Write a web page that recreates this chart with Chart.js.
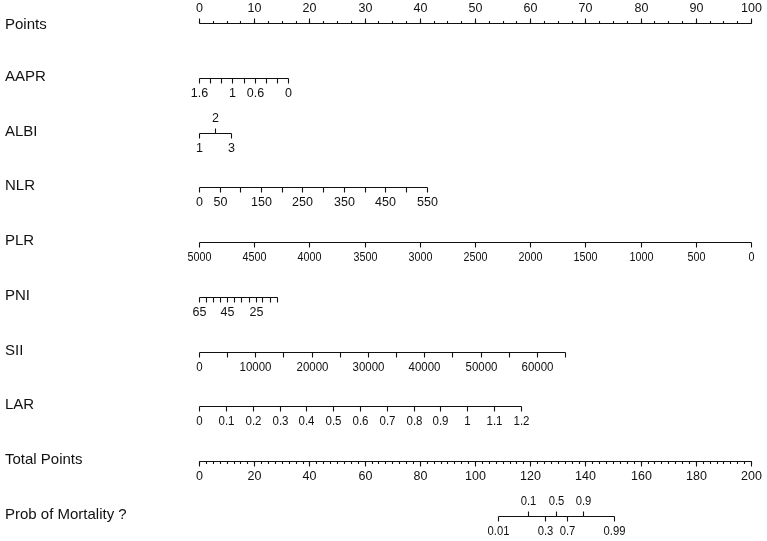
<!DOCTYPE html>
<html>
<head>
<meta charset="utf-8">
<script src="https://cdn.jsdelivr.net/npm/chart.js@4.4.1/dist/chart.umd.min.js"></script>
<style>
  html, body { margin: 0; padding: 0; background: #fff; }
  #wrap { position: relative; width: 767px; height: 541px; }
</style>
</head>
<body>
<div id="wrap"><canvas id="nomo"></canvas></div>
<script>
// row titles, top to bottom
const rowNames = ['Points', 'AAPR', 'ALBI', 'NLR', 'PLR', 'PNI', 'SII', 'LAR', 'Total Points', 'Prob of Mortality ?'];

// Points scale 0-100
const pointsTicks = [0, 10, 20, 30, 40, 50, 60, 70, 80, 90, 100];
const pointsLabels = ['0', '10', '20', '30', '40', '50', '60', '70', '80', '90', '100'];

// each variable: tick values, their position in points, printed labels
const aaprPoints = [0, 2.0, 4.0, 6.0, 8.1, 10.1, 12.1, 14.1, 16.1];
const aaprLabels = ['1.6', '', '', '1', '', '0.6', '', '', '0'];

const albiPoints = [0, 2.9, 5.8];
const albiLabels = ['1', '2', '3'];
const albiSides = ['down', 'up', 'down'];

const nlrPoints = [0, 3.75, 7.5, 11.2, 15.0, 18.7, 22.5, 26.2, 30.0, 33.7, 37.5, 41.3];
const nlrLabels = ['0', '50', '', '150', '', '250', '', '350', '', '450', '', '550'];

const plrPoints = [0, 10, 20, 30, 40, 50, 60, 70, 80, 90, 100];
const plrLabels = ['5000', '4500', '4000', '3500', '3000', '2500', '2000', '1500', '1000', '500', '0'];

const pniPoints = [0, 1.28, 2.56, 3.85, 5.13, 6.41, 7.69, 8.97, 10.3, 11.5, 12.8, 14.1];
const pniLabels = ['65', '', '', '', '45', '', '', '', '25', '', '', ''];

const siiPoints = [0, 5.1, 10.2, 15.3, 20.4, 25.5, 30.6, 35.7, 40.8, 45.9, 51.0, 56.1, 61.2, 66.3];
const siiLabels = ['0', '', '10000', '', '20000', '', '30000', '', '40000', '', '50000', '', '60000', ''];

const larPoints = [0, 4.86, 9.72, 14.6, 19.4, 24.3, 29.2, 34.0, 38.9, 43.7, 48.6, 53.5, 58.3];
const larLabels = ['0', '0.1', '0.2', '0.3', '0.4', '0.5', '0.6', '0.7', '0.8', '0.9', '1', '1.1', '1.2'];

// Total points scale 0-200
const totalTicks = [0, 20, 40, 60, 80, 100, 120, 140, 160, 180, 200];
const totalLabels = ['0', '20', '40', '60', '80', '100', '120', '140', '160', '180', '200'];

// probability, placed on total points
const probTotals = [108.3, 119.3, 125.4, 129.3, 133.2, 139.3, 150.4];
const probLabels = ['0.01', '0.1', '0.3', '0.5', '0.7', '0.9', '0.99'];
const probSides = ['down', 'up', 'down', 'up', 'down', 'up', 'down'];

const down = n => Array(n).fill('down');

const rows = [
  { axis: 'x', at: pointsTicks, labels: pointsLabels, sides: Array(pointsTicks.length).fill('up'), minor: 2.5 },
  { axis: 'x', at: aaprPoints, labels: aaprLabels, sides: down(aaprPoints.length) },
  { axis: 'x', at: albiPoints, labels: albiLabels, sides: albiSides },
  { axis: 'x', at: nlrPoints, labels: nlrLabels, sides: down(nlrPoints.length) },
  { axis: 'x', at: plrPoints, labels: plrLabels, sides: down(plrPoints.length), squeeze: 0.86 },
  { axis: 'x', at: pniPoints, labels: pniLabels, sides: down(pniPoints.length) },
  { axis: 'x', at: siiPoints, labels: siiLabels, sides: down(siiPoints.length), squeeze: 0.92 },
  { axis: 'x', at: larPoints, labels: larLabels, sides: down(larPoints.length), squeeze: 0.92 },
  { axis: 'xt', at: totalTicks, labels: totalLabels, sides: down(totalTicks.length), minor: 2.5 },
  { axis: 'xt', at: probTotals, labels: probLabels, sides: probSides, squeeze: 0.9 }
];

const FONT = '"Liberation Sans", Arial, Helvetica, sans-serif';

const nomogramPlugin = {
  id: 'nomogram',
  afterDraw(chart) {
    const ctx = chart.ctx;
    const yScale = chart.scales.y;
    ctx.save();
    ctx.strokeStyle = '#111';
    ctx.fillStyle = '#111';
    ctx.lineWidth = 1.1;

    rows.forEach((row, r) => {
      const xScale = chart.scales[row.axis];
      const y = Math.round(yScale.getPixelForValue(r)) + 0.5;

      // row title
      ctx.font = '15px ' + FONT;
      ctx.textAlign = 'left';
      ctx.textBaseline = 'middle';
      ctx.fillText(rowNames[r], 5, r === 0 ? y + 1 : y - 2);

      const px = row.at.map(v => Math.round(xScale.getPixelForValue(v)) + 0.5);
      const x0 = Math.min(...px), x1 = Math.max(...px);

      ctx.beginPath();
      ctx.moveTo(x0, y);
      ctx.lineTo(x1, y);
      ctx.stroke();

      // small ticks
      if (row.minor) {
        const first = row.at[0], last = row.at[row.at.length - 1];
        const dir = row.sides[0] === 'up' ? -1 : 1;
        ctx.beginPath();
        for (let v = first; v <= last + 1e-9; v += row.minor) {
          const x = Math.round(xScale.getPixelForValue(v)) + 0.5;
          ctx.moveTo(x, y);
          ctx.lineTo(x, y + dir * 2.5);
        }
        ctx.stroke();
      }

      // main ticks and labels
      ctx.font = '12.5px ' + FONT;
      ctx.textAlign = 'center';
      px.forEach((x, i) => {
        const dir = row.sides[i] === 'up' ? -1 : 1;
        ctx.beginPath();
        ctx.moveTo(x, y);
        ctx.lineTo(x, y + dir * 5);
        ctx.stroke();
        const txt = row.labels[i];
        if (!txt) return;
        const ty = y + dir * 15;
        if (row.squeeze) {
          ctx.save();
          ctx.translate(x, ty);
          ctx.scale(row.squeeze, 1.05);
          ctx.fillText(txt, 0, 0);
          ctx.restore();
        } else {
          ctx.fillText(txt, x, ty);
        }
      });
    });
    ctx.restore();
  }
};

new Chart(document.getElementById('nomo'), {
  type: 'scatter',
  data: { datasets: [] },
  options: {
    responsive: true,
    maintainAspectRatio: false,
    animation: false,
    layout: { padding: { left: 199, right: 16, top: 0, bottom: 0 } },
    plugins: { legend: { display: false }, tooltip: { enabled: false } },
    scales: {
      x: { type: 'linear', min: 0, max: 100, display: false },
      xt: { type: 'linear', axis: 'x', min: 0, max: 200, display: false },
      y: { type: 'linear', min: -0.42, max: 9.456, reverse: true, display: false }
    }
  },
  plugins: [nomogramPlugin]
});
</script>
</body>
</html>
